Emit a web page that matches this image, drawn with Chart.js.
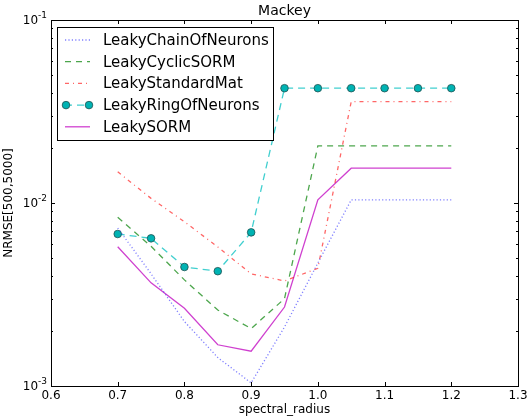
<!DOCTYPE html>
<html>
<head>
<meta charset="utf-8">
<script src="https://cdn.jsdelivr.net/npm/chart.js@4.4.1/dist/chart.umd.min.js"></script>
<style>
  html, body { margin: 0; padding: 0; background: #fff; }
  canvas { display: block; }
</style>
</head>
<body>
<canvas id="c" width="528" height="417"></canvas>
<script>
// spectral radius values (x)
const radius = [0.7, 0.75, 0.8, 0.85, 0.9, 0.95, 1.0, 1.05, 1.1, 1.15, 1.2];

// NRMSE[500,5000] per reservoir type
const chainOfNeurons = [0.0073, 0.0041, 0.00225, 0.00143, 0.00104, 0.0021, 0.0047, 0.0104, 0.0104, 0.0104, 0.0104];
const cyclicSORM     = [0.00835, 0.0058, 0.0038, 0.0026, 0.00206, 0.0030, 0.0205, 0.0205, 0.0205, 0.0205, 0.0205];
const standardMat    = [0.0148, 0.0106, 0.0079, 0.00575, 0.0041, 0.00375, 0.0044, 0.0358, 0.0358, 0.0358, 0.0358];
const ringOfNeurons  = [0.00677, 0.00641, 0.00447, 0.00424, 0.00691, 0.0424, 0.0424, 0.0424, 0.0424, 0.0424, 0.0424];
const sorm           = [0.00577, 0.00366, 0.00266, 0.00168, 0.00155, 0.0027, 0.0104, 0.0155, 0.0155, 0.0155, 0.0155];

// axis ticks
const xTicks = [0.6, 0.7, 0.8, 0.9, 1.0, 1.1, 1.2, 1.3];
const yDecades = [-3, -2, -1];

const FONT = '"DejaVu Sans", sans-serif';

const series = [
  { label: 'LeakyChainOfNeurons', data: chainOfNeurons, color: 'rgba(60,60,255,0.65)', dash: [1.2, 2.2], width: 1.3 },
  { label: 'LeakyCyclicSORM', data: cyclicSORM, color: 'rgba(0,128,0,0.7)', dash: [6, 5], width: 1.3 },
  { label: 'LeakyStandardMat', data: standardMat, color: 'rgba(255,0,0,0.6)', dash: [4, 4, 1, 4], width: 1.3 },
  { label: 'LeakyRingOfNeurons', data: ringOfNeurons, color: 'rgba(0,191,191,0.75)', dash: [7, 5], width: 1.3, marker: true },
  { label: 'LeakySORM', data: sorm, color: 'rgba(191,0,191,0.75)', dash: [], width: 1.3 }
];

const datasets = series.map(s => ({
  label: s.label,
  data: radius.map((x, i) => ({ x, y: s.data[i] })),
  borderColor: s.color,
  borderDash: s.dash,
  borderWidth: s.width,
  tension: 0,
  fill: false,
  pointRadius: s.marker ? 3.8 : 0,
  pointBackgroundColor: '#00b3b3',
  pointBorderColor: '#205050',
  pointBorderWidth: 0.8
}));

// frame, inward ticks, labels and legend in matplotlib style
const mplFrame = {
  id: 'mplFrame',
  afterDraw(chart) {
    const { ctx, chartArea: a, scales } = chart;
    const xs = scales.x, ys = scales.y;
    ctx.save();
    ctx.strokeStyle = '#000';
    ctx.lineWidth = 1;
    ctx.setLineDash([]);

    // ticks
    ctx.beginPath();
    xTicks.forEach(v => {
      const px = Math.round(xs.getPixelForValue(v)) + 0.5;
      ctx.moveTo(px, a.bottom); ctx.lineTo(px, a.bottom - 4);
      ctx.moveTo(px, a.top); ctx.lineTo(px, a.top + 4);
    });
    yDecades.forEach(d => {
      const py = Math.round(ys.getPixelForValue(Math.pow(10, d))) + 0.5;
      ctx.moveTo(a.left, py); ctx.lineTo(a.left + 4, py);
      ctx.moveTo(a.right, py); ctx.lineTo(a.right - 4, py);
      if (d < -1) {
        for (let m = 2; m <= 9; m++) {
          const pm = Math.round(ys.getPixelForValue(m * Math.pow(10, d))) + 0.5;
          ctx.moveTo(a.left, pm); ctx.lineTo(a.left + 2, pm);
          ctx.moveTo(a.right, pm); ctx.lineTo(a.right - 2, pm);
        }
      }
    });
    ctx.stroke();

    // frame
    ctx.strokeRect(Math.round(a.left) + 0.5, Math.round(a.top) + 0.5,
      Math.round(a.right - a.left), Math.round(a.bottom - a.top));

    // x tick labels
    ctx.fillStyle = '#000';
    ctx.font = '12px ' + FONT;
    ctx.textAlign = 'center';
    ctx.textBaseline = 'middle';
    xTicks.forEach(v => ctx.fillText(v.toFixed(1), xs.getPixelForValue(v), a.bottom + 10));

    // y tick labels 10^d
    yDecades.forEach(d => {
      const py = ys.getPixelForValue(Math.pow(10, d));
      ctx.font = '9px ' + FONT;
      ctx.textAlign = 'right';
      const sup = '-' + Math.abs(d);
      const sw = ctx.measureText(sup).width;
      ctx.fillText(sup, a.left - 4, py - 4);
      ctx.font = '12px ' + FONT;
      ctx.fillText('10', a.left - 4 - sw, py + 1);
    });

    // axis titles
    ctx.font = '12px ' + FONT;
    ctx.textAlign = 'center';
    ctx.fillText('spectral_radius', (a.left + a.right) / 2, a.bottom + 24);
    ctx.save();
    ctx.translate(9, (a.top + a.bottom) / 2);
    ctx.rotate(-Math.PI / 2);
    ctx.fillText('NRMSE[500,5000]', 0, 0);
    ctx.restore();

    // title
    ctx.font = '14px ' + FONT;
    ctx.fillText('Mackey', (a.left + a.right) / 2, a.top - 9);

    // legend box
    const lx = a.left + 6, ly = a.top + 7, lw = 216, lh = 113;
    ctx.fillStyle = '#fff';
    ctx.fillRect(lx, ly, lw, lh);
    ctx.strokeStyle = '#000';
    ctx.lineWidth = 1;
    ctx.strokeRect(Math.round(lx) + 0.5, Math.round(ly) + 0.5, lw, lh);
    ctx.font = '15px ' + FONT;
    ctx.textAlign = 'left';
    series.forEach((s, i) => {
      const ry = ly + 13 + i * 21.7;
      ctx.strokeStyle = s.color;
      ctx.lineWidth = s.width;
      ctx.setLineDash(s.dash);
      ctx.beginPath();
      ctx.moveTo(lx + 8, ry); ctx.lineTo(lx + 33, ry);
      ctx.stroke();
      ctx.setLineDash([]);
      if (s.marker) {
        [lx + 9, lx + 32].forEach(cx => {
          ctx.beginPath();
          ctx.arc(cx, ry, 3.8, 0, Math.PI * 2);
          ctx.fillStyle = '#00b3b3';
          ctx.fill();
          ctx.strokeStyle = '#205050';
          ctx.lineWidth = 0.8;
          ctx.stroke();
        });
      }
      ctx.fillStyle = '#000';
      ctx.fillText(s.label, lx + 46, ry + 1);
    });
    ctx.restore();
  }
};

new Chart(document.getElementById('c').getContext('2d'), {
  type: 'line',
  data: { datasets },
  options: {
    responsive: false,
    animation: false,
    layout: { padding: { left: 51, right: 10, top: 20, bottom: 31 } },
    scales: {
      x: { type: 'linear', min: 0.6, max: 1.3, display: false },
      y: { type: 'logarithmic', min: 0.001, max: 0.1, display: false }
    },
    plugins: {
      legend: { display: false },
      tooltip: { enabled: false },
      title: { display: false }
    }
  },
  plugins: [mplFrame]
});
</script>
</body>
</html>
